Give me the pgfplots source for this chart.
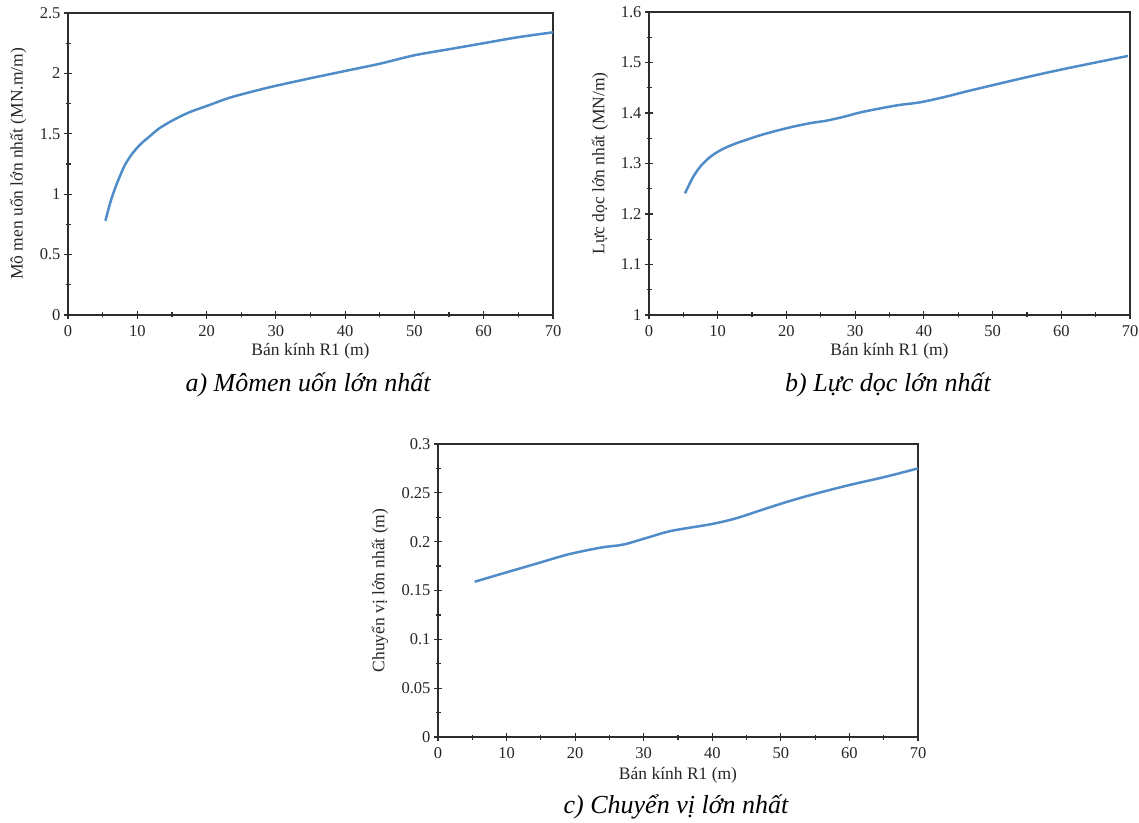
\documentclass[border=0pt]{standalone}
\usepackage{fontspec}
\setmainfont{Liberation Serif}
\usepackage{pgfplots}
\pgfplotsset{compat=1.18}
\definecolor{curve}{RGB}{80,140,200}
\definecolor{axc}{RGB}{45,45,45}
\pgfplotsset{myax/.style={
  scale only axis, anchor=south west,
  xmin=0, xmax=70, xtick={0,10,...,70},
  minor x tick num=1, minor y tick num=1,
  tick pos=left, tick align=center,
  major tick length=8pt, minor tick length=5pt,
  axis line style={line width=1.4pt, color=axc},
  every tick/.style={line width=1.2pt, color=axc},
  tick label style={font=\fontsize{16.5}{16.5}\selectfont, color=black!85},
  xticklabel style={yshift=-3pt},
  /pgf/number format/assume math mode=true,
  label style={font=\fontsize{17.5}{18}\selectfont, color=black!85},
  xlabel={Bán kính R1 (m)},
}}
\begin{document}
\begin{tikzpicture}
\path[use as bounding box] (0pt,0pt) rectangle (1139pt,822pt);
% a)
\begin{axis}[myax, at={(68pt,507pt)}, width=485pt, height=302pt,
  ymin=0, ymax=2.5, ytick={0,0.5,...,2.5},
  yticklabels={0,0.5,1,1.5,2,2.5},
  ylabel={Mô men uốn lớn nhất (MN.m/m)},
  xlabel style={at={(axis description cs:0.5,-0.119)}, anchor=center},
  ylabel style={at={(axis description cs:-0.103,0.5)}, anchor=center}]
\addplot[smooth, line width=2.5pt, color=curve] coordinates {
(5.4,0.78) (6.1,0.93) (6.8,1.05) (7.5,1.15) (8.2,1.24) (9.2,1.33) (10.4,1.41)
(11.8,1.48) (13.3,1.55) (15.4,1.62) (17.6,1.68) (20.5,1.74) (23.4,1.80)
(28,1.87) (30.6,1.905) (35,1.96) (40,2.02) (45,2.08) (50,2.15) (55,2.20)
(60,2.25) (65,2.30) (70,2.34)};
\end{axis}
% b)
\begin{axis}[myax, at={(649pt,507pt)}, width=481pt, height=303pt,
  ymin=1, ymax=1.6, ytick={1,1.1,...,1.6},
  yticklabels={1,1.1,1.2,1.3,1.4,1.5,1.6},
  ylabel={Lực dọc lớn nhất (MN/m)},
  xlabel style={at={(axis description cs:0.5,-0.119)}, anchor=center},
  ylabel style={at={(axis description cs:-0.102,0.5)}, anchor=center}]
\addplot[smooth, line width=2.5pt, color=curve] coordinates {
(5.24,1.241) (6.45,1.274) (7.6,1.296) (8.9,1.313) (10.5,1.327) (12.3,1.338)
(14.2,1.347) (16.2,1.356) (18.6,1.365) (21,1.373) (23.5,1.380) (25.9,1.385)
(28.5,1.393) (30.7,1.401) (33.6,1.409) (36.5,1.416) (39.4,1.421) (42.8,1.431)
(46,1.442) (50,1.455) (55,1.471) (60,1.486) (65,1.500) (69.7,1.513)};
\end{axis}
% c)
\begin{axis}[myax, at={(438pt,85pt)}, width=480pt, height=293pt,
  ymin=0, ymax=0.3, ytick={0,0.05,...,0.3},
  yticklabels={0,0.05,0.1,0.15,0.2,0.25,0.3},
  ylabel={Chuyển vị lớn nhất (m)},
  xlabel style={at={(axis description cs:0.5,-0.13)}, anchor=center},
  ylabel style={at={(axis description cs:-0.121,0.5)}, anchor=center}]
\addplot[smooth, line width=2.5pt, color=curve] coordinates {
(5.35,0.159) (9.7,0.168) (14.6,0.178) (19,0.187) (23.8,0.194) (27,0.197)
(30.5,0.204) (34,0.211) (39.9,0.218) (43.5,0.224) (47,0.232) (51,0.241)
(55,0.249) (60,0.258) (65,0.266) (70,0.275)};
\end{axis}
\node[font=\fontsize{26}{28}\selectfont\itshape] at (308pt,437pt) {a) Mômen uốn lớn nhất};
\node[font=\fontsize{26}{28}\selectfont\itshape] at (888pt,437pt) {b) Lực dọc lớn nhất};
\node[font=\fontsize{26}{28}\selectfont\itshape] at (676pt,15pt) {c) Chuyển vị lớn nhất};
\end{tikzpicture}
\end{document}
